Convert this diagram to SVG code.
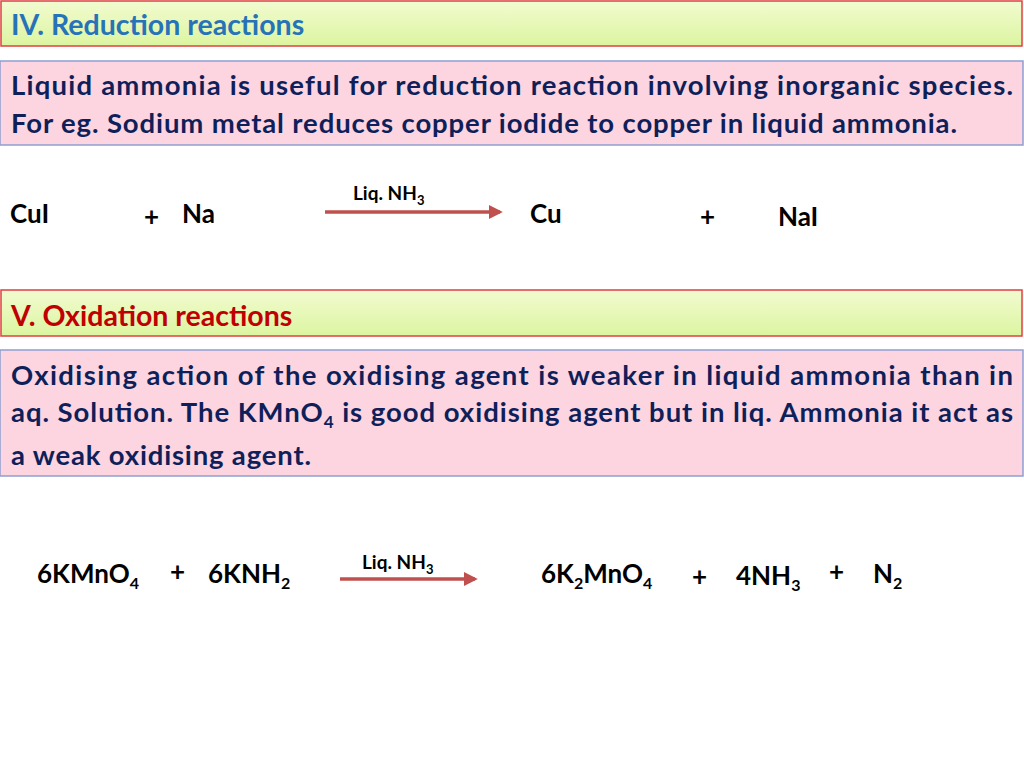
<svg xmlns="http://www.w3.org/2000/svg" width="1024" height="768" viewBox="0 0 1024 768">
<defs>
<linearGradient id="g" x1="0" y1="0" x2="0" y2="1"><stop offset="0" stop-color="#f2fbd0"/><stop offset="1" stop-color="#dcf5a0"/></linearGradient>
<marker id="ah" viewBox="0 0 10 10" refX="8" refY="5" markerWidth="4" markerHeight="4" orient="auto"><path d="M0,0 L10,5 L0,10 z" fill="#c0504d"/></marker>
</defs>
<style>
text{font-family:Lato,"Open Sans","Liberation Sans",sans-serif;font-weight:bold}
.b{font-size:27.5px;fill:#0f1f5a}
.e{font-size:26px;fill:#000}
.l{font-size:19px;fill:#000}
.t{font-size:28.5px}
.title{fill:url(#g);stroke:#e04040;stroke-width:1.5}
.pink{fill:#fcd5e1;stroke:#8e9fd0;stroke-width:1.5}
.arr{stroke:#c0504d;stroke-width:3.5;marker-end:url(#ah)}
</style>
<rect width="1024" height="768" fill="#fff"/>
<g id="title1"><rect class="title" x="1" y="1" width="1021" height="45"/><text class="t" x="11" y="35" fill="#2773b8">IV. Reduction reactions</text></g>
<g id="box1"><rect class="pink" x="0" y="61" width="1023" height="84"/>
<text class="b" x="11" y="95" textLength="1002" lengthAdjust="spacing">Liquid ammonia is useful for reduction reaction involving inorganic species.</text>
<text class="b" x="11" y="133" textLength="946" lengthAdjust="spacing">For eg. Sodium metal reduces copper iodide to copper in liquid ammonia.</text></g>
<g id="eq1">
<text class="e" x="10" y="223">CuI</text><text class="e" x="144" y="226">+</text><text class="e" x="182" y="223">Na</text>
<text class="l" x="353" y="200">Liq. NH<tspan font-size="13" dy="5">3</tspan></text>
<text class="e" x="530" y="223">Cu</text><text class="e" x="700" y="226">+</text><text class="e" x="778" y="226">NaI</text></g>
<g id="title2"><rect class="title" x="1" y="290" width="1021" height="46"/><text class="t" x="11" y="326" fill="#c00000">V. Oxidation reactions</text></g>
<g id="box2"><rect class="pink" x="0" y="350" width="1023" height="126"/>
<text class="b" x="11" y="385" textLength="1002" lengthAdjust="spacing">Oxidising action of the oxidising agent is weaker in liquid ammonia than in</text>
<text class="b" x="11" y="422" textLength="1002" lengthAdjust="spacing">aq. Solution. The KMnO<tspan font-size="17" dy="6">4</tspan><tspan dy="-6"> is good oxidising agent but in liq. Ammonia it act as</tspan></text>
<text class="b" x="11" y="465" textLength="300" lengthAdjust="spacing">a weak oxidising agent.</text></g>
<g id="eq2">
<text class="e" x="37" y="583">6KMnO<tspan font-size="16" dy="6">4</tspan></text>
<text class="e" x="170" y="581">+</text>
<text class="e" x="208" y="583">6KNH<tspan font-size="16" dy="6">2</tspan></text>
<text class="l" x="362" y="569">Liq. NH<tspan font-size="13" dy="5">3</tspan></text>
<text class="e" x="541" y="583">6K<tspan font-size="16" dy="6">2</tspan><tspan dy="-6">MnO</tspan><tspan font-size="16" dy="6">4</tspan></text>
<text class="e" x="692" y="586">+</text>
<text class="e" x="736" y="585">4NH<tspan font-size="16" dy="6">3</tspan></text>
<text class="e" x="829" y="581">+</text>
<text class="e" x="873" y="583">N<tspan font-size="16" dy="6">2</tspan></text></g>
<g id="connectors">
<line class="arr" x1="325" y1="212" x2="500" y2="212"/>
<line class="arr" x1="340" y1="579" x2="475" y2="579"/>
</g>
</svg>
